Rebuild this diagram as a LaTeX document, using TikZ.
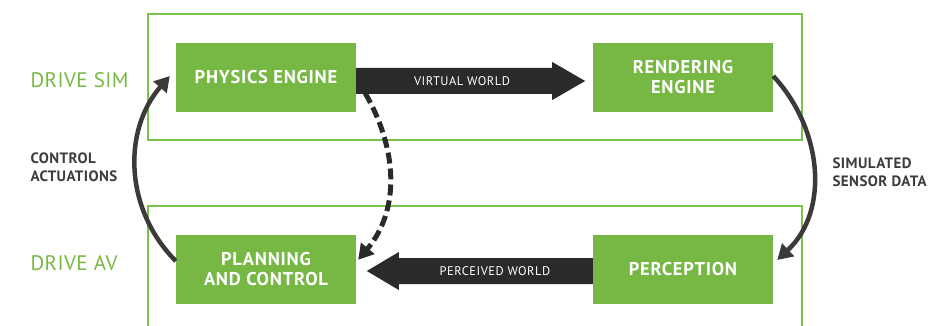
\documentclass[tikz,border=0pt]{standalone}
\usepackage{fontspec}
\setmainfont{PT Sans}
\usetikzlibrary{arrows.meta,calc}
\definecolor{nvgreen}{HTML}{76B843}
\definecolor{frameline}{HTML}{7CC24A}
\definecolor{darkarrow}{HTML}{2A2A2A}
\definecolor{curvegray}{HTML}{3A3A3A}
\definecolor{labelgray}{HTML}{3C3C3C}
\begin{document}
\begin{tikzpicture}[x=1pt,y=1pt,
  greenbox/.style={fill=nvgreen, minimum width=180pt, minimum height=69pt, inner sep=0pt,
    text=white, font=\bfseries\fontsize{18.5}{20}\selectfont\addfontfeature{LetterSpace=4}, align=center},
  framebox/.style={draw=frameline, line width=2pt, inner sep=0pt},
  regionlbl/.style={anchor=west, text=nvgreen, font=\fontsize{21}{24}\selectfont\addfontfeature{LetterSpace=2}},
  sidelbl/.style={anchor=west, align=left, text=labelgray, font=\bfseries\fontsize{15}{18}\selectfont\addfontfeature{LetterSpace=3}},
  fatarrow/.style={fill=darkarrow},
  arrowlbl/.style={text=white, font=\fontsize{12.5}{14}\selectfont\addfontfeature{LetterSpace=4}},
  curve/.style={draw=curvegray, line width=4.5pt, -{Triangle[length=15pt,width=17pt]}},
  dashcurve/.style={curve, draw=darkarrow, line width=5pt, dash pattern=on 11pt off 5pt}
]
\useasboundingbox (0,0) rectangle (928,-326);

% region frames
\node[framebox, minimum width=654pt, minimum height=126pt] (simframe) at (475,-77) {};
\node[framebox, minimum width=654pt, minimum height=140pt] (avframe) at (475,-276) {};

% region labels
\node[regionlbl] (simlbl) at (27,-80) {DRIVE SIM};
\node[regionlbl] (avlbl) at (27,-263) {DRIVE AV};

% side labels
\node[sidelbl] (ctrllbl) at (27,-167) {CONTROL\\ACTUATIONS};
\node[sidelbl] (senslbl) at (829,-172) {SIMULATED\\SENSOR DATA};

% green boxes
\node[greenbox] (phys) at (266,-77.5) {PHYSICS ENGINE};
\node[greenbox] (render) at (683,-77.5) {RENDERING\\ENGINE};
\node[greenbox] (plan) at (266,-269.5) {PLANNING\\AND CONTROL};
\node[greenbox] (perc) at (683,-269.5) {PERCEPTION};

% fat arrows
\fill[fatarrow] ([yshift=9.5pt]phys.east) -- ++(196,0) -- ++(0,6) -- ++(33,-19)
  -- ++(-33,-19) -- ++(0,6) -- ++(-196,0) -- cycle;
\node[arrowlbl] (vwlbl) at (462,-81) {VIRTUAL WORLD};

\fill[fatarrow] ([yshift=11.5pt]perc.west) -- ++(-194,0) -- ++(0,6) -- ++(-32,-19)
  -- ++(32,-19) -- ++(0,6) -- ++(194,0) -- cycle;
\node[arrowlbl] (pwlbl) at (495,-271) {PERCEIVED WORLD};

% curved arrows
\draw[curve] ([yshift=8.5pt]plan.west) to[out=135,in=229] ([xshift=-6pt,yshift=1.5pt]phys.west);
\draw[curve] ([yshift=1.5pt]render.east) to[out=-47,in=43] ([xshift=4pt,yshift=9.5pt]perc.east);
\draw[dashcurve] ([xshift=9pt,yshift=19pt]phys.south east) to[out=-60,in=50] ([xshift=2pt,yshift=-25pt]plan.north east);
\end{tikzpicture}
\end{document}
